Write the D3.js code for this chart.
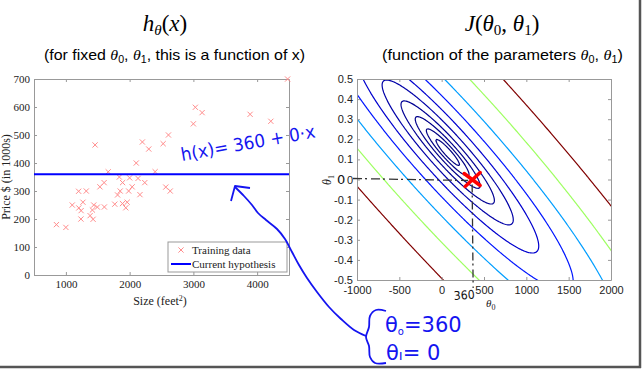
<!DOCTYPE html>
<html>
<head>
<meta charset="utf-8">
<script src="https://cdn.jsdelivr.net/npm/d3@7"></script>
<style>
body { margin: 0; background: #fff; }
svg { display: block; }
</style>
</head>
<body>
<div id="chart"></div>
<script>
// training set: size (feet^2) and price (in 1000s)
var sizes = [2104,1600,2400,1416,3000,1985,1534,1427,1380,1494,1940,2000,1890,4478,1268,2300,1320,1236,2609,3031,1767,1888,1604,1962,3890,1100,1458,2526,2200,2637,1839,1000,2040,3137,1811,1437,1239,2132,4215,2162,1664,2238,2567,1200,852,1852,1203];
var prices = [399.9,329.9,369.0,232.0,539.9,299.9,314.9,199.0,212.0,242.5,240.0,347.0,330.0,699.9,259.9,449.9,299.9,199.9,500.0,599.0,252.9,255.0,242.9,259.9,573.9,249.9,464.5,469.0,475.0,299.9,349.9,169.9,314.9,579.9,285.9,249.9,229.9,345.0,549.0,287.0,368.5,329.9,314.0,299.0,179.9,299.9,239.5];

// current hypothesis
var theta0 = 360, theta1 = 0;

// contour levels of J
var contourLevels = [3360, 6320, 11900, 22400, 42200, 79400, 149000, 282000, 531000, 1000000];

var sizeTicks = [1000, 2000, 3000, 4000];
var priceTicks = [0, 100, 200, 300, 400, 500, 600, 700];
var t0Ticks = [-1000, -500, 0, 500, 1000, 1500, 2000];
var t1Ticks = [-0.5, -0.4, -0.3, -0.2, -0.1, 0, 0.1, 0.2, 0.3, 0.4, 0.5];

var W = 644, H = 371;
var svg = d3.select("#chart").append("svg")
  .attr("width", W)
  .attr("height", H);

svg.append("rect").attr("width", W).attr("height", H).attr("fill", "#fff");

// slide edge shadow
svg.append("line").attr("x1", 640).attr("x2", 640).attr("y1", 0).attr("y2", 368)
  .attr("stroke", "#555").attr("stroke-width", 2.5);
svg.append("line").attr("x1", 0).attr("x2", 641).attr("y1", 367).attr("y2", 367)
  .attr("stroke", "#555").attr("stroke-width", 2.5);

var serif = "'Liberation Serif', 'DejaVu Serif', serif";
var sans = "'Liberation Sans', Arial, sans-serif";
var hand = "'DejaVu Sans', 'Noto Sans', sans-serif";

// ---------- titles ----------
var t1 = svg.append("text").attr("x", 165).attr("y", 31)
  .attr("text-anchor", "middle")
  .style("font-family", serif).style("font-size", "23px");
t1.append("tspan").style("font-style", "italic").text("h");
t1.append("tspan").style("font-style", "italic").style("font-size", "15px").attr("dy", 4).text("θ");
t1.append("tspan").attr("dy", -4).text("(");
t1.append("tspan").style("font-style", "italic").text("x");
t1.append("tspan").text(")");

var t2 = svg.append("text").attr("x", 502).attr("y", 31)
  .attr("text-anchor", "middle")
  .style("font-family", serif).style("font-size", "23px");
t2.append("tspan").style("font-style", "italic").text("J");
t2.append("tspan").text("(");
t2.append("tspan").style("font-style", "italic").text("θ");
t2.append("tspan").style("font-size", "15px").attr("dy", 4).text("0");
t2.append("tspan").attr("dy", -4).text(", ");
t2.append("tspan").style("font-style", "italic").text("θ");
t2.append("tspan").style("font-size", "15px").attr("dy", 4).text("1");
t2.append("tspan").attr("dy", -4).text(")");

var s1 = svg.append("text").attr("x", 44).attr("y", 60)
  .attr("textLength", 261).attr("lengthAdjust", "spacingAndGlyphs")
  .style("font-family", sans).style("font-size", "15px");
s1.append("tspan").text("(for fixed ");
s1.append("tspan").style("font-family", serif).style("font-style", "italic").text("θ");
s1.append("tspan").style("font-size", "10px").attr("dy", 3).text("0");
s1.append("tspan").attr("dy", -3).text(", ");
s1.append("tspan").style("font-family", serif).style("font-style", "italic").text("θ");
s1.append("tspan").style("font-size", "10px").attr("dy", 3).text("1");
s1.append("tspan").attr("dy", -3).text(", this is a function of x)");

var s2 = svg.append("text").attr("x", 382).attr("y", 60)
  .attr("textLength", 241).attr("lengthAdjust", "spacingAndGlyphs")
  .style("font-family", sans).style("font-size", "15px");
s2.append("tspan").text("(function of the parameters ");
s2.append("tspan").style("font-family", serif).style("font-style", "italic").text("θ");
s2.append("tspan").style("font-size", "10px").attr("dy", 3).text("0");
s2.append("tspan").attr("dy", -3).text(", ");
s2.append("tspan").style("font-family", serif).style("font-style", "italic").text("θ");
s2.append("tspan").style("font-size", "10px").attr("dy", 3).text("1");
s2.append("tspan").attr("dy", -3).text(")");

// ---------- left plot: h(x) ----------
var xL = d3.scaleLinear().domain([500, 4500]).range([34, 289]);
var yL = d3.scaleLinear().domain([0, 700]).range([275, 79]);

var left = svg.append("g");

function boxAxes(g, x, y, xt, yt, font, fmt, xpad) {
  var tk = 3;
  g.append("g").attr("transform", "translate(0," + y.range()[0] + ")")
    .call(d3.axisBottom(x).tickValues(xt).tickSize(-tk).tickSizeOuter(0).tickPadding(xpad).tickFormat(fmt));
  g.append("g").attr("transform", "translate(0," + y.range()[1] + ")")
    .call(d3.axisTop(x).tickValues(xt).tickSize(-tk).tickSizeOuter(0).tickFormat(""));
  g.append("g").attr("transform", "translate(" + x.range()[0] + ",0)")
    .call(d3.axisLeft(y).tickValues(yt).tickSize(-tk).tickSizeOuter(0).tickPadding(4).tickFormat(fmt));
  g.append("g").attr("transform", "translate(" + x.range()[1] + ",0)")
    .call(d3.axisRight(y).tickValues(yt).tickSize(-tk).tickSizeOuter(0).tickFormat(""));
  g.selectAll(".domain").attr("stroke", "#999");
  g.selectAll(".tick line").attr("stroke", "#999");
  g.selectAll(".tick text").attr("fill", "#222")
    .style("font-family", font).style("font-size", "11px");
}

boxAxes(left, xL, yL, sizeTicks, priceTicks, serif, String, 5);

left.selectAll(".pt")
  .data(sizes)
  .enter().append("path")
  .attr("class", "pt")
  .attr("transform", function(d, i) { return "translate(" + xL(d) + "," + yL(prices[i]) + ")"; })
  .attr("d", "M-2.6,-2.6L2.6,2.6M-2.6,2.6L2.6,-2.6")
  .attr("stroke", "#ff8c8c")
  .attr("stroke-width", 1);

var hline = d3.line()
  .x(function(d) { return xL(d); })
  .y(function(d) { return yL(theta0 + theta1 * d); });

left.append("path")
  .datum(xL.domain())
  .attr("fill", "none")
  .attr("stroke", "#0000ff")
  .attr("stroke-width", 2)
  .attr("d", hline);

left.append("text")
  .attr("x", 160).attr("y", 305)
  .attr("text-anchor", "middle")
  .style("font-family", serif).style("font-size", "12px")
  .attr("fill", "#222")
  .html("Size (feet<tspan dy='-4' font-size='8px'>2</tspan><tspan dy='4'>)</tspan>");

left.append("text")
  .attr("transform", "translate(10,177) rotate(-90)")
  .attr("text-anchor", "middle")
  .style("font-family", serif).style("font-size", "12px")
  .attr("fill", "#222")
  .text("Price $ (in 1000s)");

// legend
var lg = left.append("g");
lg.append("rect").attr("x", 168).attr("y", 242).attr("width", 119).attr("height", 30)
  .attr("fill", "#fff").attr("stroke", "#999");
lg.append("path").attr("transform", "translate(181,250)")
  .attr("d", "M-2.6,-2.6L2.6,2.6M-2.6,2.6L2.6,-2.6")
  .attr("stroke", "#ff8c8c");
lg.append("line").attr("x1", 171).attr("x2", 191).attr("y1", 264).attr("y2", 264)
  .attr("stroke", "#0000ff").attr("stroke-width", 2);
lg.append("text").attr("x", 192).attr("y", 254)
  .style("font-family", serif).style("font-size", "11px").attr("fill", "#222")
  .text("Training data");
lg.append("text").attr("x", 192).attr("y", 268)
  .style("font-family", serif).style("font-size", "11px").attr("fill", "#222")
  .text("Current hypothesis");

// ---------- right plot: J(theta0, theta1) ----------
var xR = d3.scaleLinear().domain([-1000, 2000]).range([357, 611]);
var yR = d3.scaleLinear().domain([-0.5, 0.5]).range([280, 79]);

var right = svg.append("g");

svg.append("clipPath").attr("id", "clipR")
  .append("rect").attr("x", 357).attr("y", 79).attr("width", 254).attr("height", 201);

// cost grid (extends past the axes so contour borders get clipped away)
var g0min = -1400, g0step = 10, nx = 381;
var g1min = -0.7, g1step = 0.005, ny = 281;
var m = sizes.length;
var J = new Array(nx * ny);
for (var j = 0; j < ny; j++) {
  var b1 = g1min + j * g1step;
  for (var i = 0; i < nx; i++) {
    var b0 = g0min + i * g0step, s = 0;
    for (var k = 0; k < m; k++) {
      var e = b0 + b1 * sizes[k] - prices[k];
      s += e * e;
    }
    J[j * nx + i] = s / (2 * m);
  }
}

var contours = d3.contours().size([nx, ny]).thresholds(contourLevels)(J);

var jet = d3.scaleLinear()
  .domain([0, 1/8, 3/8, 5/8, 7/8, 1])
  .range(["#000080", "#0000ff", "#00ffff", "#ffff00", "#ff0000", "#800000"]);
var levelT = d3.scaleLinear()
  .domain([contourLevels[0], contourLevels[contourLevels.length - 1]])
  .range([0, 1]);

var gridProj = d3.geoTransform({
  point: function(gx, gy) {
    this.stream.point(xR(g0min + (gx - 0.5) * g0step), yR(g1min + (gy - 0.5) * g1step));
  }
});

right.append("g")
  .attr("clip-path", "url(#clipR)")
  .selectAll("path")
  .data(contours)
  .enter().append("path")
  .attr("d", d3.geoPath(gridProj))
  .attr("fill", "none")
  .attr("stroke", function(d) { return jet(levelT(d.value)); })
  .attr("stroke-width", 1.2);

boxAxes(right, xR, yR, t0Ticks, t1Ticks, sans, String, 6);

right.append("text")
  .attr("transform", "translate(331,180) rotate(-90)")
  .attr("text-anchor", "middle")
  .style("font-family", serif).style("font-style", "italic").style("font-size", "12px")
  .attr("fill", "#222")
  .html("θ<tspan dy='3' font-size='8px' font-style='normal'>1</tspan>");

right.append("text")
  .attr("x", 486).attr("y", 307)
  .style("font-family", serif).style("font-style", "italic").style("font-size", "11px")
  .attr("fill", "#222")
  .html("θ<tspan dy='3' font-size='8px' font-style='normal'>0</tspan>");

// handwritten guide lines to the current parameters
var px = xR(theta0), py = yR(theta1);
right.append("line")
  .attr("x1", xR(-1000) - 4).attr("x2", px - 4)
  .attr("y1", py - 1).attr("y2", py + 1)
  .attr("stroke", "#333").attr("stroke-width", 1.3)
  .attr("stroke-dasharray", "9,3,2,4");
right.append("line")
  .attr("x1", px).attr("x2", px + 1)
  .attr("y1", py + 5).attr("y2", yR(-0.5) + 8)
  .attr("stroke", "#333").attr("stroke-width", 1.3)
  .attr("stroke-dasharray", "8,3,2,4");

right.append("text")
  .attr("x", 337).attr("y", 184)
  .style("font-family", hand).style("font-size", "13px").attr("fill", "#111")
  .text("0");
right.append("text")
  .attr("transform", "translate(454,300) rotate(-4)")
  .attr("textLength", 21).attr("lengthAdjust", "spacingAndGlyphs")
  .style("font-family", hand).style("font-size", "12px").attr("fill", "#111")
  .text("360");

// current parameters marker
right.append("path")
  .attr("transform", "translate(" + px + "," + py + ")")
  .attr("d", "M-8,-6L8,6M-7,7L8,-7")
  .attr("stroke", "#ff0000")
  .attr("stroke-width", 3.5)
  .attr("stroke-linecap", "round");

// ---------- blue handwritten notes ----------
var ink = "#1414f0";

svg.append("text")
  .attr("transform", "translate(182,161) rotate(-10)")
  .attr("textLength", 136).attr("lengthAdjust", "spacingAndGlyphs")
  .style("font-family", hand).style("font-size", "18px").attr("fill", ink)
  .text("h(x)= 360 + 0·x");

var arrowPts = [[235,187],[244,196],[252,205],[258,213],[266,220],[277,229],[285,239],
  [292,252],[299,265],[307,278],[317,292],[329,307],[341,319],[354,330],[366,336]];
var bracePts = [[386,311],[376,310],[370,316],[369,327],[366,337],[369,346],[370,357],[375,363],[386,363]];

var curve = d3.line().curve(d3.curveCatmullRom);
svg.append("path").attr("d", curve(arrowPts))
  .attr("fill", "none").attr("stroke", ink).attr("stroke-width", 1.8);
svg.append("path").attr("d", curve(bracePts))
  .attr("fill", "none").attr("stroke", ink).attr("stroke-width", 1.8);
svg.append("path").attr("d", "M250,188L235,186L231,201")
  .attr("fill", "none").attr("stroke", ink).attr("stroke-width", 1.8)
  .attr("stroke-linejoin", "round");

var n0 = svg.append("text").attr("x", 385).attr("y", 332)
  .style("font-family", hand).style("font-size", "21px").attr("fill", ink);
n0.append("tspan").text("θ");
n0.append("tspan").attr("dy", 3).style("font-size", "10px").text("o");
n0.append("tspan").attr("dy", -3).text("=360");

var n1 = svg.append("text").attr("x", 386).attr("y", 360)
  .style("font-family", hand).style("font-size", "21px").attr("fill", ink);
n1.append("tspan").text("θ");
n1.append("tspan").attr("dy", 0).style("font-size", "14px").text("ı");
n1.append("tspan").text("= 0");
</script>
</body>
</html>
